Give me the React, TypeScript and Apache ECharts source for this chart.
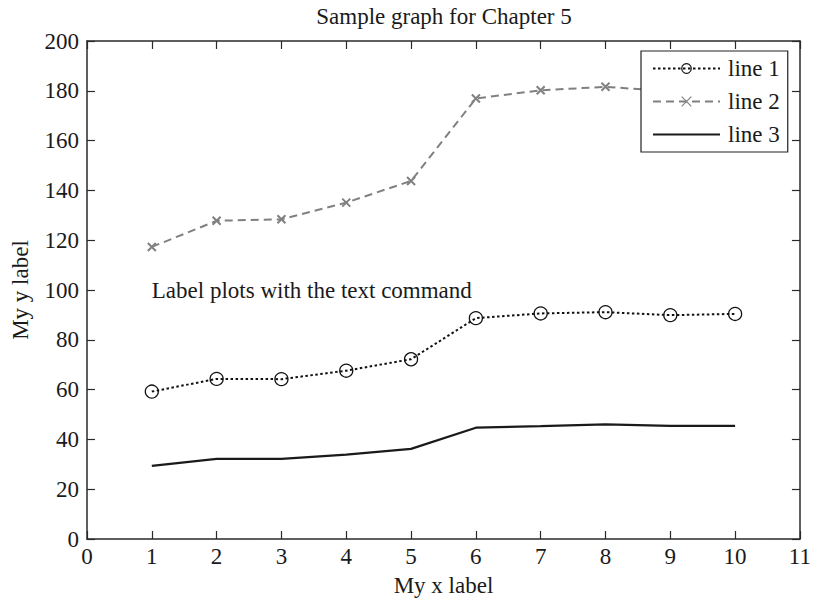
import React, { useEffect, useRef } from "react";
import * as echarts from "echarts";

const xValues = [1, 2, 3, 4, 5, 6, 7, 8, 9, 10];
const line1 = [59.2, 64.3, 64.2, 67.6, 72.2, 88.7, 90.6, 91.1, 89.9, 90.4];
const line2 = [117.3, 127.8, 128.4, 135.1, 143.8, 176.9, 180.2, 181.6, 179.8, 180.8];
const line3 = [29.4, 32.2, 32.2, 33.9, 36.2, 44.7, 45.3, 46.0, 45.4, 45.4];
const seriesNames = ["line 1", "line 2", "line 3"];
const titleText = "Sample graph for Chapter 5";
const xLabel = "My x label";
const yLabel = "My y label";
const annotation = "Label plots with the text command";
const annotationAt = [1, 100];

const FONT = "Liberation Serif, Times New Roman, serif";
const INK = "#1a1a1a";
const FS = 23;

function pairs(ys: number[]) {
  return xValues.map((x, i) => [x, ys[i]]);
}
function axisLine() {
  return { show: true, onZero: false, lineStyle: { color: "#2a2a2a", width: 1.5 } };
}
function tick() {
  return { show: true, inside: true, length: 8, lineStyle: { color: "#2a2a2a", width: 1.2 } };
}

export default function App() {
  const ref = useRef<HTMLDivElement>(null);
  useEffect(() => {
    const chart = echarts.init(ref.current!, undefined, { renderer: "svg" });
    chart.setOption({
      animation: false,
      backgroundColor: "#ffffff",
      textStyle: { fontFamily: FONT, color: INK },
      title: {
        text: titleText,
        left: 439,
        textAlign: "center",
        top: 0,
        textStyle: { fontFamily: FONT, fontSize: FS, fontWeight: "normal", color: INK },
      },
      grid: { left: 87, right: 12, top: 41, bottom: 60 },
      legend: {
        left: 641,
        top: 51,
        orient: "vertical",
        backgroundColor: "#ffffff",
        borderColor: "#222",
        borderWidth: 1.2,
        borderRadius: 0,
        padding: [6, 8, 6, 11],
        itemGap: 10,
        itemWidth: 67,
        itemHeight: 12,
        itemStyle: { borderWidth: 1.2 },
        data: seriesNames,
        textStyle: { fontFamily: FONT, fontSize: FS, color: INK, padding: [0, 0, 0, 3] },
      },
      xAxis: [
        {
          type: "value",
          position: "bottom",
          min: 0,
          max: 11,
          interval: 1,
          name: xLabel,
          nameLocation: "middle",
          nameGap: 35,
          nameTextStyle: { fontFamily: FONT, fontSize: FS, color: INK },
          axisLine: axisLine(),
          axisTick: tick(),
          splitLine: { show: false },
          axisLabel: { fontFamily: FONT, fontSize: FS, color: INK, margin: 6 },
        },
        {
          type: "value",
          position: "top",
          min: 0,
          max: 11,
          interval: 1,
          axisLine: axisLine(),
          axisTick: tick(),
          splitLine: { show: false },
          axisLabel: { show: false },
        },
      ],
      yAxis: [
        {
          type: "value",
          position: "left",
          min: 0,
          max: 200,
          interval: 20,
          name: yLabel,
          nameLocation: "middle",
          nameGap: 55,
          nameTextStyle: { fontFamily: FONT, fontSize: FS, color: INK },
          axisLine: axisLine(),
          axisTick: tick(),
          splitLine: { show: false },
          axisLabel: { fontFamily: FONT, fontSize: FS, color: INK, margin: 8 },
        },
        {
          type: "value",
          position: "right",
          min: 0,
          max: 200,
          interval: 20,
          axisLine: axisLine(),
          axisTick: tick(),
          splitLine: { show: false },
          axisLabel: { show: false },
        },
      ],
      series: [
        {
          name: seriesNames[0],
          type: "line",
          data: pairs(line1),
          symbol: "circle",
          symbolSize: 13,
          lineStyle: { color: "#111", width: 2, type: [2.5, 2.5] },
          itemStyle: { color: "transparent", borderColor: "#111", borderWidth: 1.3 },
          markPoint: {
            symbol: "circle",
            symbolSize: 0,
            data: [{ coord: annotationAt }],
            label: {
              show: true,
              position: "right",
              distance: 0,
              formatter: annotation,
              fontFamily: FONT,
              fontSize: FS,
              color: INK,
            },
          },
        },
        {
          name: seriesNames[1],
          type: "line",
          data: pairs(line2),
          symbol: "path://M0,0L10,10M10,0L0,10",
          symbolSize: 8,
          lineStyle: { color: "#808080", width: 2, type: [8, 5] },
          itemStyle: { color: "transparent", borderColor: "#808080", borderWidth: 2 },
        },
        {
          name: seriesNames[2],
          type: "line",
          data: pairs(line3),
          symbol: "none",
          lineStyle: { color: "#1a1a1a", width: 2.2, type: "solid" },
          itemStyle: { color: "transparent", borderColor: "transparent", borderWidth: 0 },
        },
      ],
    });
    return () => chart.dispose();
  }, []);
  return <div ref={ref} style={{ width: 814, height: 602, position: "absolute", left: 0, top: 0 }} />;
}
